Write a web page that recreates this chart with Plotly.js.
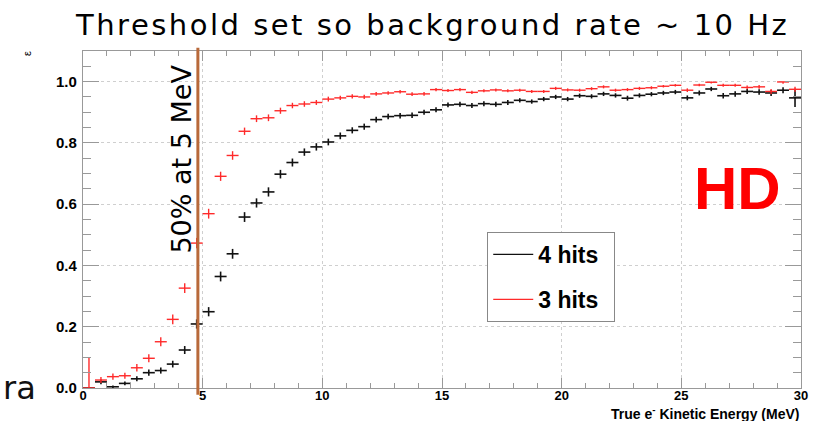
<!DOCTYPE html>
<html>
<head>
<meta charset="utf-8">
<script src="https://cdn.plot.ly/plotly-3.0.1.min.js"></script>
<style>html,body{margin:0;padding:0;background:#fff;}#chart{width:820px;height:421px;}</style>
</head>
<body>
<div id="chart"></div>
<script>
// Bin centres (MeV), 0.5 MeV bins
const energy = [0.25,0.75,1.25,1.75,2.25,2.75,3.25,3.75,4.25,4.75,5.25,5.75,6.25,6.75,7.25,7.75,8.25,8.75,9.25,9.75,
  10.25,10.75,11.25,11.75,12.25,12.75,13.25,13.75,14.25,14.75,15.25,15.75,16.25,16.75,17.25,17.75,18.25,18.75,19.25,19.75,
  20.25,20.75,21.25,21.75,22.25,22.75,23.25,23.75,24.25,24.75,25.25,25.75,26.25,26.75,27.25,27.75,28.25,28.75,29.25,29.75];
const binHalfWidth = 0.25;

// 4 hits efficiency
const eff4 = [0.000,0.020,0.004,0.015,0.030,0.050,0.057,0.078,0.124,0.209,0.249,0.364,0.438,0.558,0.604,0.640,0.698,0.736,0.770,0.787,
  0.803,0.823,0.841,0.853,0.876,0.886,0.889,0.890,0.900,0.908,0.924,0.926,0.922,0.928,0.926,0.932,0.939,0.935,0.943,0.950,
  0.943,0.954,0.952,0.960,0.955,0.946,0.955,0.959,0.963,0.966,0.947,0.963,0.976,0.954,0.960,0.968,0.966,0.963,0.972,0.947];
const err4 = [0.000,0.008,0.004,0.006,0.008,0.010,0.010,0.011,0.013,0.015,0.015,0.016,0.016,0.016,0.015,0.015,0.014,0.013,0.012,0.012,
  0.011,0.011,0.010,0.010,0.009,0.009,0.009,0.009,0.008,0.008,0.008,0.008,0.008,0.008,0.008,0.008,0.007,0.007,0.007,0.007,
  0.007,0.007,0.007,0.007,0.007,0.008,0.007,0.007,0.007,0.007,0.008,0.008,0.007,0.009,0.009,0.008,0.009,0.010,0.010,0.030];

// 3 hits efficiency
const eff3 = [0.000,0.026,0.037,0.040,0.066,0.097,0.151,0.224,0.326,0.473,0.569,0.691,0.759,0.838,0.879,0.882,0.905,0.922,0.927,0.932,
  0.943,0.947,0.952,0.950,0.960,0.963,0.967,0.959,0.960,0.974,0.971,0.974,0.965,0.970,0.973,0.970,0.972,0.968,0.968,0.978,
  0.973,0.972,0.977,0.983,0.972,0.974,0.978,0.980,0.985,0.988,0.972,0.989,0.998,0.988,0.988,0.981,0.983,0.968,0.999,0.975];
const err3Plus = [0.100,0.010,0.010,0.010,0.012,0.013,0.015,0.016,0.016,0.017,0.016,0.015,0.014,0.012,0.011,0.011,0.010,0.009,0.009,0.008,
  0.008,0.007,0.007,0.007,0.006,0.006,0.006,0.006,0.006,0.005,0.005,0.005,0.005,0.005,0.005,0.005,0.005,0.005,0.005,0.005,
  0.005,0.005,0.005,0.005,0.005,0.005,0.005,0.005,0.004,0.004,0.006,0.004,0.002,0.005,0.005,0.006,0.006,0.008,0.001,0.008];
const err3Minus = [0.000,0.010,0.010,0.010,0.012,0.013,0.015,0.016,0.016,0.017,0.016,0.015,0.014,0.012,0.011,0.011,0.010,0.009,0.009,0.008,
  0.008,0.007,0.007,0.007,0.006,0.006,0.006,0.006,0.006,0.005,0.005,0.005,0.005,0.005,0.005,0.005,0.005,0.005,0.005,0.005,
  0.005,0.005,0.005,0.005,0.005,0.005,0.005,0.005,0.004,0.004,0.006,0.004,0.004,0.005,0.005,0.006,0.006,0.008,0.006,0.008];

const seriesNames = ['4 hits','3 hits'];
const thresholdE = 4.8;
const xTickVals = [0,5,10,15,20,25,30];
const xTickText = ['0','5','10','15','20','25','30'];
const yTickVals = [0,0.2,0.4,0.6,0.8,1.0];
const yTickText = ['0.0','0.2','0.4','0.6','0.8','1.0'];

const BLACK = '#111111', RED = '#ff2a2a';
const bold = s => '<b>' + s + '</b>';
const pad = '<span style="color:rgba(0,0,0,0)">ii</span>';

const traces = [
  {x: energy, y: eff4, type:'scatter', mode:'markers', marker:{size:0.1, color:BLACK}, showlegend:false,
   error_x:{type:'constant', value:binHalfWidth, width:0, thickness:1.6, color:BLACK},
   error_y:{type:'data', array:err4, width:0, thickness:1.6, color:BLACK}},
  {x: energy, y: eff3, type:'scatter', mode:'markers', marker:{size:0.1, color:RED}, showlegend:false,
   error_x:{type:'constant', value:binHalfWidth, width:0, thickness:1.4, color:RED},
   error_y:{type:'data', symmetric:false, array:err3Plus, arrayminus:err3Minus, width:0, thickness:1.4, color:RED}},
  {x:[null], y:[null], type:'scatter', mode:'lines', name:bold(seriesNames[0]) + pad, line:{color:BLACK, width:1.3}, legendgroup:'a'},
  {x:[null], y:[null], type:'scatter', mode:'lines', name:bold(seriesNames[1]) + pad, line:{color:RED, width:1.3}, legendgroup:'b'}
];

const tickFont = {family:'Liberation Sans, Arial, sans-serif', size:15, color:'#000'};
const slideFont = 'DejaVu Sans, sans-serif';

const layout = {
  width:820, height:421,
  margin:{l:83, r:19, t:51, b:33},
  paper_bgcolor:'#fff', plot_bgcolor:'#fff',
  showlegend:true,
  legend:{x:0.563, y:0.463, xanchor:'left', yanchor:'top', bgcolor:'#fff', bordercolor:'#888', borderwidth:1,
    font:{family:'Liberation Sans, Arial, sans-serif', size:23, color:'#000'}, tracegroupgap:12,
    itemwidth:40},
  xaxis:{range:[0,30], tickvals:xTickVals, ticktext:xTickText.map(bold), ticks:'inside', ticklen:10, tickcolor:'#999', tickwidth:1,
    showline:true, linecolor:'#999', linewidth:1.2, mirror:'allticks', zeroline:false,
    showgrid:true, gridcolor:'#cfcfcf', griddash:'dot', gridwidth:1, tickfont:{...tickFont, size:13}, ticklabelstandoff:-5,
    minor:{dtick:1, ticklen:5, tickcolor:'#999', ticks:'inside', showgrid:false}},
  yaxis:{range:[0,1.1], tickvals:yTickVals, ticktext:yTickText.map(bold), ticks:'inside', ticklen:16, tickcolor:'#999', tickwidth:1,
    showline:true, linecolor:'#999', linewidth:1.2, mirror:'allticks', zeroline:false,
    showgrid:true, gridcolor:'#cfcfcf', griddash:'dot', gridwidth:1, tickfont:tickFont, ticklabelstandoff:2,
    minor:{dtick:0.05, ticklen:8, tickcolor:'#999', ticks:'inside', showgrid:false}},
  shapes:[
    {type:'line', xref:'x', yref:'paper', x0:thresholdE, x1:thresholdE, y0:-0.02, y1:1.01,
     line:{color:'#b8693a', width:3}}
  ],
  annotations:[
    {text:'Threshold set so background rate ~ 10 Hz', xref:'paper', yref:'paper', x:0.486, y:1.077,
     xanchor:'center', yanchor:'middle', showarrow:false, font:{family:slideFont, size:29, color:'#000'}},
    {text:'50% at 5 MeV', xref:'paper', yref:'paper', x:0.1375, y:0.68, textangle:-90,
     xanchor:'center', yanchor:'middle', showarrow:false, font:{family:slideFont, size:27, color:'#000'}},
    {text:bold('HD'), xref:'paper', yref:'paper', x:0.911, y:0.593, xanchor:'center', yanchor:'middle', showarrow:false,
     font:{family:'Liberation Sans, Arial, sans-serif', size:60, color:'#ff0000'}},
    {text:'ε', xref:'paper', yref:'paper', x:-0.078, y:0.994, textangle:-90, xanchor:'center', yanchor:'middle',
     showarrow:false, font:{family:'Liberation Sans, Arial, sans-serif', size:11, color:'#000'}},
    {text:'ra', xref:'paper', yref:'paper', x:-0.062, y:0.0, xanchor:'right', yanchor:'middle', showarrow:false,
     font:{family:slideFont, size:32, color:'#111'}},
    {text:bold('True e<sup>-</sup> Kinetic Energy (MeV)'), xref:'paper', yref:'paper', x:1.0, y:-0.042,
     xanchor:'right', yanchor:'top', showarrow:false,
     font:{family:'Liberation Sans, Arial, sans-serif', size:14, color:'#000'}}
  ]
};

Plotly.newPlot('chart', traces, layout, {staticPlot:true, displayModeBar:false}).then(gd => {
  // widen the slide-style title letter spacing to match the reference's wide sans face
  gd.querySelectorAll('.annotation-text').forEach(t => {
    if (t.textContent.indexOf('Threshold') === 0) t.style.letterSpacing = '2.5px';
  });
});
</script>
</body>
</html>
